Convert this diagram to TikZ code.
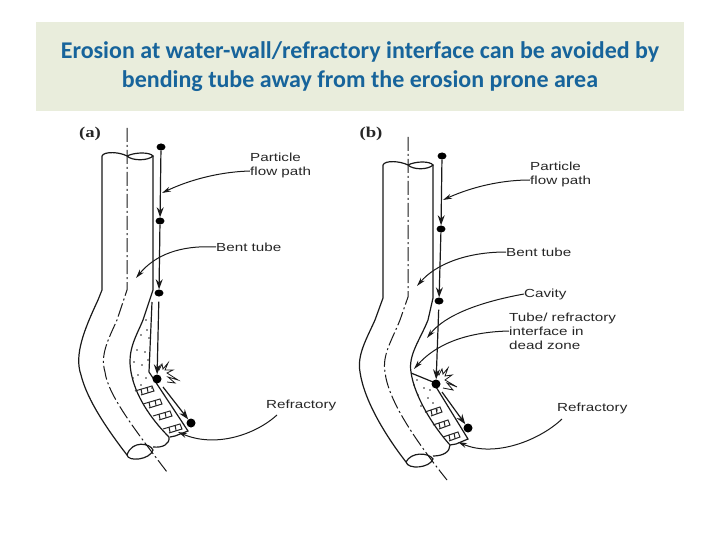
\documentclass[tikz,border=0pt]{standalone}
\usepackage{fontspec}
\setmainfont{Carlito}
\newfontfamily\partfont[FakeStretch=1.3]{Liberation Sans}
\newfontfamily\tagfont[FakeStretch=1.25]{Liberation Serif}
\usetikzlibrary{positioning, arrows.meta, shapes.geometric}
\definecolor{headfill}{HTML}{E9EDDC}
\definecolor{headtext}{HTML}{17649B}
\tikzset{
    wall/.style={line width=1.2pt, black!90},
    axis/.style={line width=1pt, black!90, dash pattern=on 14pt off 3pt on 2pt off 3pt},
    grit/.style={ellipse, fill=black, inner sep=0pt, minimum width=9pt, minimum height=7pt},
    hit/.style={circle, fill=black, inner sep=0pt, minimum size=9pt},
    flow/.style={line width=1.2pt, black!90, -{Stealth[length=10pt, width=7pt]}},
    lead/.style={line width=1pt, black!90, -{Stealth[length=9pt, width=5pt]}},
    part/.style={font=\partfont\fontsize{11.7}{14}\selectfont, inner sep=0pt, anchor=west, align=left, text=black!85},
    tag/.style={font=\tagfont\bfseries\fontsize{15}{17}\selectfont, text=black!85},
    brick/.style={line width=1pt, black!85},
    spark/.style={line width=0.8pt, black!90}
}
\begin{document}
\begin{tikzpicture}[x=1pt, y=-1pt]
    \useasboundingbox (0,0) rectangle (720,540);
    \fill[headfill] (36,22) rectangle (684,111);
    \node[font=\fontsize{24}{29}\selectfont\bfseries, text=headtext, align=center] (title) at (360,67)
        {Erosion at water-wall/refractory interface can be avoided by\\bending tube away from the erosion prone area};

    % panel a
    \node[tag] (tag_a) at (90,134) {(a)};
    \draw[wall] (102,156) -- (102,290) -- (98,300) .. controls (84,330) and (74,355) .. (81,375) .. controls (86,395) and (100,420) .. (127,455);
    \draw[wall] (153,156) -- (153,290) -- (143,320) .. controls (136,337) and (127,350) .. (131,372) .. controls (135,395) and (150,418) .. (169,437);
    \draw[wall] (102,156) .. controls (104,151) and (120,152) .. (127,156) .. controls (135,152) and (150,152) .. (153,156) .. controls (148,161) and (132,161) .. (127,156);
    \draw[wall] (127,455) .. controls (132,440) and (150,443) .. (153,450) .. controls (150,460) and (128,462) .. (127,455);
    \draw[wall] (169,437) .. controls (170,444) and (163,448) .. (153,447);
    \draw[axis] (127,128) -- (127,290) -- (117,320) .. controls (108,340) and (100,355) .. (105,372) .. controls (108,395) and (135,430) .. (167,472);
    % refractory a
    \draw[wall] (152,302) -- (149,372) -- (188,431) -- (175,436) -- (170,437);
    \foreach \dotx/\doty in {146/320,141/335,149/338,137/350,145/352,134/362,142/365,148/360,138/375,146/378,141/385,133/378,147/330,152/388}
        \fill[black!85] (\dotx,\doty) circle (0.8pt);
    \foreach \brickx/\bricky in {135/391,143/404,153/416,163/429}
        \draw[brick, shift={(\brickx,\bricky)}] (0,0) -- (17,-5) -- (19,0) -- (6,4) (6,-2) -- (7,3) (12,-4) -- (13,1);
    % particle path a
    \node[grit] (a_0) at (161,147) {};
    \node[grit] (a_1) at (160,221) {};
    \node[grit] (a_2) at (159,293) {};
    \node[hit] (a_3) at (157,379) {};
    \node[hit] (a_4) at (191,423) {};
    \draw[flow] (a_0) -- (a_1);
    \draw[flow] (a_1) -- (a_2);
    \draw[flow, shorten <=5pt] (a_2) -- (a_3);
    \draw[flow] (163,387) -- (a_4);
    \draw[spark] (157,365) -- (159,370) -- (162,364) -- (163,369) -- (168,363) -- (165,370) -- (173,370) -- (167,373) -- (178,380) -- (168,377) -- (175,383) -- (167,382);
    % labels a
    \node[part] (flow_a) at (250,165) {Particle\\flow path};
    \node[part] (bent_a) at (216,247) {Bent tube};
    \node[part] (refr_a) at (266,405) {Refractory};
    \coordinate (flow_a_end) at (162,193);
    \coordinate (bent_a_end) at (136,278);
    \coordinate (refr_a_end) at (178,432);
    \draw[lead] (flow_a.west |- 0,171) .. controls (215,172) and (185,182) .. (flow_a_end);
    \draw[lead] (bent_a.west) .. controls (180,245) and (155,255) .. (bent_a_end);
    \draw[lead] (277,415) .. controls (255,435) and (215,448) .. (refr_a_end);

    % panel b
    \node[tag] (tag_b) at (371,134) {(b)};
    \draw[wall] (383,165) -- (383,298) -- (375,320) .. controls (366,340) and (357,355) .. (360,372) .. controls (364,400) and (385,435) .. (406,462);
    \draw[wall] (433,165) -- (433,298) -- (428,320) .. controls (420,340) and (408,355) .. (411,372) .. controls (414,395) and (432,425) .. (450,445);
    \draw[wall] (383,165) .. controls (385,160) and (400,161) .. (408,165) .. controls (416,161) and (430,161) .. (433,165) .. controls (428,170) and (413,170) .. (408,165);
    \draw[wall] (406,462) .. controls (411,452) and (428,452) .. (433,459) .. controls (430,468) and (408,470) .. (406,462);
    \draw[wall] (450,445) .. controls (450,452) and (443,456) .. (433,456);
    \draw[axis] (408,137) -- (408,297) -- (400,320) .. controls (392,340) and (382,355) .. (385,372) .. controls (388,400) and (415,440) .. (447,480);
    % refractory b
    \draw[wall] (411,373) -- (433,382) -- (468,439) -- (456,444) -- (450,445);
    \foreach \dotx/\doty in {417/380,424/388,418/395,428/398,421/406,433/403,426/412,437/410,414/385,430/390}
        \fill[black!85] (\dotx,\doty) circle (0.8pt);
    \foreach \brickx/\bricky in {425/412,433/425,443/437}
        \draw[brick, shift={(\brickx,\bricky)}] (0,0) -- (15,-5) -- (17,0) -- (6,4) (6,-2) -- (7,3) (11,-4) -- (12,1);
    % particle path b
    \node[grit] (b_0) at (442,156) {};
    \node[grit] (b_1) at (441,229) {};
    \node[grit] (b_2) at (439,301) {};
    \node[hit] (b_3) at (436,384) {};
    \node[hit] (b_4) at (468,428) {};
    \draw[flow] (b_0) -- (b_1);
    \draw[flow] (b_1) -- (b_2);
    \draw[flow, shorten <=5pt] (b_2) -- (b_3);
    \draw[flow] (442,392) -- (b_4);
    \draw[spark] (436,370) -- (439,375) -- (442,369) -- (443,374) -- (448,368) -- (445,376) -- (452,375) -- (445,380) -- (457,387) -- (447,383) -- (453,390) -- (443,388);
    % labels b
    \node[part] (flow_b) at (530,174) {Particle\\flow path};
    \node[part] (bent_b) at (506,252) {Bent tube};
    \node[part] (cavity_b) at (524,294) {Cavity};
    \node[part] (iface_b) at (509,331) {Tube/ refractory\\interface in\\dead zone};
    \node[part] (refr_b) at (557,408) {Refractory};
    \coordinate (flow_b_end) at (443,200);
    \coordinate (bent_b_end) at (417,286);
    \coordinate (cavity_b_end) at (427,338);
    \coordinate (iface_b_end) at (414,369);
    \coordinate (refr_b_end) at (458,442);
    \draw[lead] (flow_b.west |- 0,180) .. controls (495,180) and (465,190) .. (flow_b_end);
    \draw[lead] (bent_b.west) .. controls (465,252) and (435,265) .. (bent_b_end);
    \draw[lead] (cavity_b.west) .. controls (480,302) and (445,315) .. (cavity_b_end);
    \draw[lead] (iface_b.west) .. controls (465,332) and (435,345) .. (iface_b_end);
    \draw[lead] (562,419) .. controls (540,440) and (495,458) .. (refr_b_end);
\end{tikzpicture}
\end{document}
